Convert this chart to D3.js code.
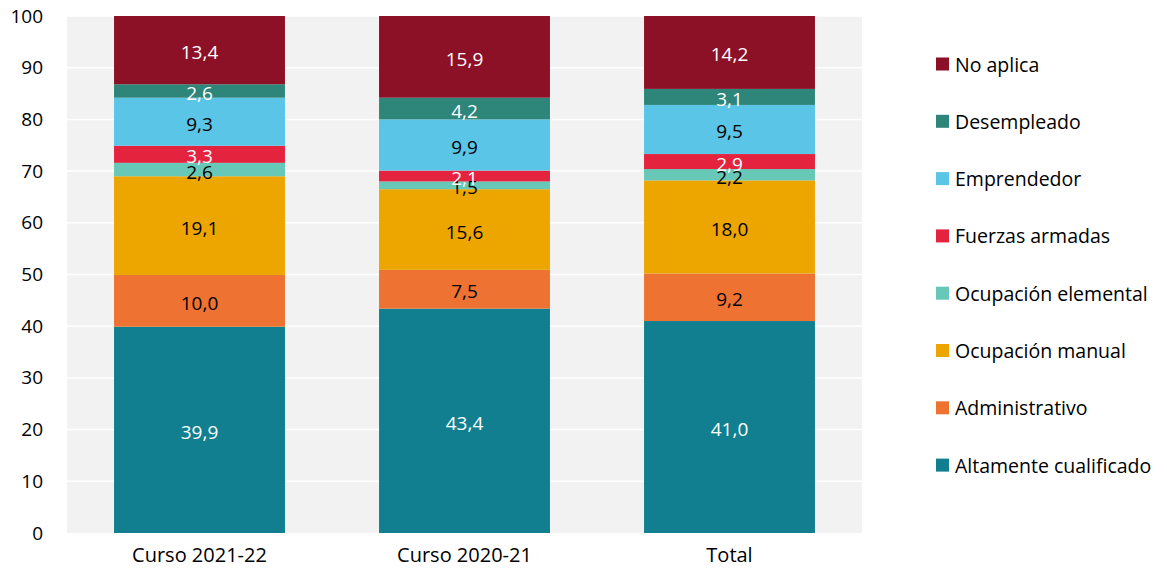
<!DOCTYPE html>
<html><head><meta charset="utf-8">
<script src="https://cdn.jsdelivr.net/npm/d3@7/dist/d3.min.js"></script>
<style>body{margin:0;background:#fff;} svg{display:block;font-family:"Open Sans",sans-serif;}</style>
</head><body><svg id="c" width="1167" height="577"></svg>
<script>
const categories = ["Curso 2021-22", "Curso 2020-21", "Total"];
const seriesNames = ["Altamente cualificado","Administrativo","Ocupación manual","Ocupación elemental","Fuerzas armadas","Emprendedor","Desempleado","No aplica"];
const altamente = [39.9, 43.4, 41.0];
const administrativo = [10.0, 7.5, 9.2];
const manual = [19.1, 15.6, 18.0];
const elemental = [2.6, 1.5, 2.2];
const fuerzas = [3.3, 2.1, 2.9];
const emprendedor = [9.3, 9.9, 9.5];
const desempleado = [2.6, 4.2, 3.1];
const noAplica = [13.4, 15.9, 14.2];
const yTicks = [0,10,20,30,40,50,60,70,80,90,100];
const colors = ["#117F8F","#EE7333","#EDA500","#67C8B8","#E4233F","#5BC5E8","#2E8579","#8C1127"];
const labelColors = ["#fff","#000","#000","#000","#fff","#000","#fff","#fff"];
const seriesValues = [altamente, administrativo, manual, elemental, fuerzas, emprendedor, desempleado, noAplica];

const svg = d3.select("#c");
const m = {l:67, r:305, t:16, b:44};
const W = 1167, H = 577;
const x = d3.scaleBand().domain(categories).range([m.l, W-m.r]).paddingInner(0.355).paddingOuter(0.1775);
const y = d3.scaleLinear().domain([0,100]).range([H-m.b, m.t]);

svg.append("rect").attr("x",m.l).attr("y",m.t).attr("width",W-m.r-m.l).attr("height",H-m.b-m.t).attr("fill","#f2f2f2");
svg.append("g").selectAll("line").data(yTicks.slice(1)).join("line")
  .attr("x1",m.l).attr("x2",W-m.r).attr("y1",d=>y(d)).attr("y2",d=>y(d))
  .attr("stroke","#fff").attr("stroke-width",1.5);

svg.append("clipPath").attr("id","pc").append("rect")
  .attr("x",m.l).attr("y",m.t).attr("width",W-m.r-m.l).attr("height",H-m.b-m.t);

const rows = categories.map((c,i)=>{const o={cat:c}; seriesNames.forEach((s,j)=>o[s]=seriesValues[j][i]); return o;});
const stack = d3.stack().keys(seriesNames)(rows);

const g = svg.append("g").attr("clip-path","url(#pc)");
stack.forEach((layer,j)=>{
  g.append("g").selectAll("rect").data(layer).join("rect")
    .attr("x",d=>x(d.data.cat)).attr("width",x.bandwidth())
    .attr("y",d=>y(d[1])).attr("height",d=>y(d[0])-y(d[1]))
    .attr("fill",colors[j]);
});
stack.forEach((layer,j)=>{
  g.append("g").selectAll("text").data(layer).join("text")
    .attr("x",d=>x(d.data.cat)+x.bandwidth()/2)
    .attr("y",d=>(y(d[0])+y(Math.min(d[1],100)))/2+2)
    .attr("text-anchor","middle").attr("dominant-baseline","central")
    .attr("font-size",19).attr("fill",labelColors[j])
    .text(d=>(d[1]-d[0]).toFixed(1).replace(".",","));
});

const ya = d3.axisLeft(y).tickValues(yTicks).tickSize(0).tickPadding(24);
svg.append("g").attr("transform",`translate(${m.l},0)`).call(ya)
  .call(s=>s.select(".domain").remove())
  .selectAll("text").attr("font-size",19).attr("fill","#000").attr("font-family","Open Sans");

const xa = d3.axisBottom(x).tickSize(0).tickPadding(15);
svg.append("g").attr("transform",`translate(0,${H-m.b})`).call(xa)
  .call(s=>s.select(".domain").remove())
  .selectAll("text").attr("font-size",20).attr("fill","#000").attr("font-family","Open Sans");

const leg = svg.append("g");
const legOrder = seriesNames.map((s,i)=>i).reverse();
legOrder.forEach((j,k)=>{
  const yy = 64 + k*57.3;
  leg.append("rect").attr("x",936).attr("y",yy-6.5).attr("width",13).attr("height",13).attr("fill",colors[j]);
  leg.append("text").attr("x",955).attr("y",yy).attr("dominant-baseline","central")
    .attr("font-size",19.5).attr("fill","#000").text(seriesNames[j]);
});
</script></body></html>
